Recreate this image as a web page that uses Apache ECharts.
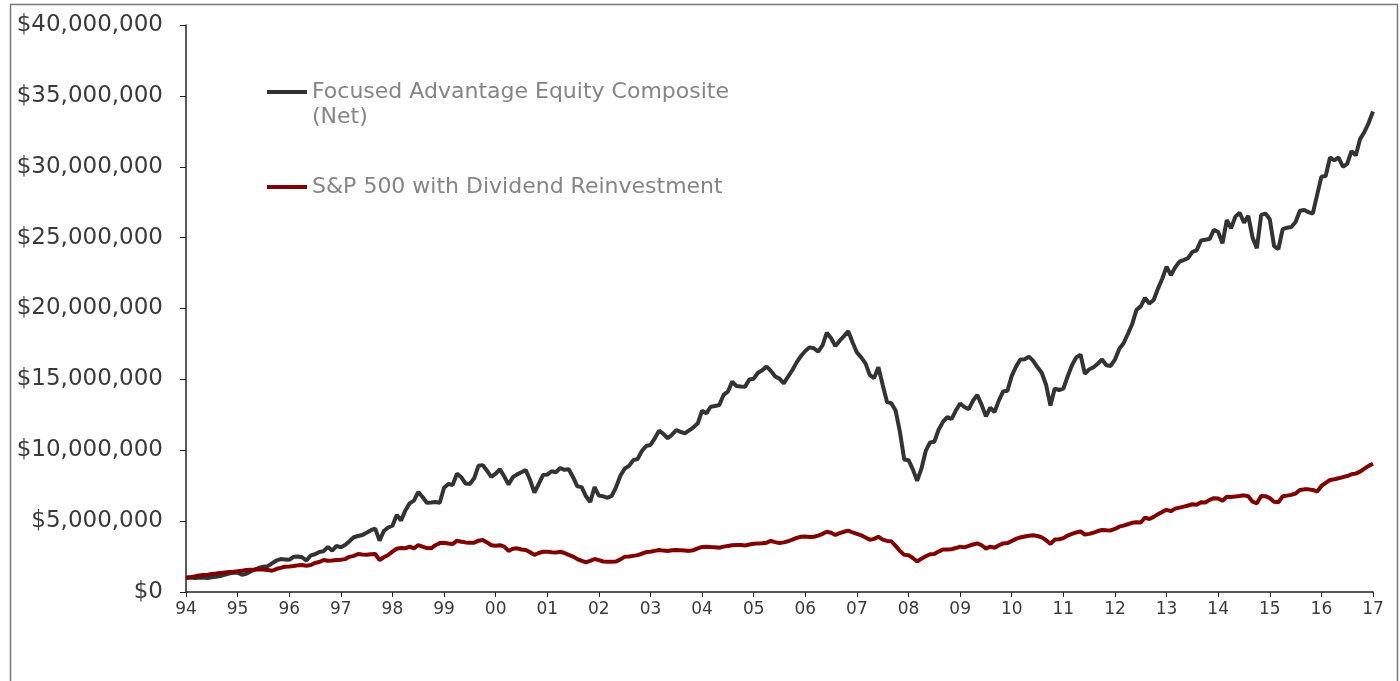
<!DOCTYPE html>
<html style="height: 100%">
<head>
  <meta charset="utf-8">
</head>
<body style="height: 100%; margin: 0; background: #fff">
  <div id="container" style="width: 1400px; height: 681px"></div>
  <script type="text/javascript" src="https://cdn.jsdelivr.net/npm/echarts@6/dist/echarts.min.js"></script>
  <script type="text/javascript">
    // year tick labels (one tick every 12 monthly points)
    var years = ['94', '95', '96', '97', '98', '99', '00', '01', '02', '03', '04', '05',
                 '06', '07', '08', '09', '10', '11', '12', '13', '14', '15', '16', '17'];

    // growth of $1,000,000, values in $ millions, monthly
    var composite = [
      1.00, 1.02, 0.98, 1.00, 1.03, 0.99, 1.04, 1.08, 1.13, 1.22, 1.30, 1.35,
      1.38, 1.22, 1.28, 1.45, 1.58, 1.71, 1.78, 1.82, 2.02, 2.22, 2.32, 2.30,
      2.27, 2.48, 2.50, 2.45, 2.22, 2.58, 2.66, 2.82, 2.88, 3.18, 2.92, 3.25,
      3.15, 3.32, 3.58, 3.86, 3.95, 4.02, 4.18, 4.36, 4.47, 3.62, 4.30, 4.55,
      4.68, 5.43, 5.05, 5.75, 6.25, 6.45, 7.05, 6.70, 6.30, 6.32, 6.35, 6.30,
      7.35, 7.62, 7.55, 8.35, 8.10, 7.65, 7.62, 8.02, 8.90, 8.95, 8.55, 8.12,
      8.35, 8.66, 8.15, 7.58, 8.10, 8.30, 8.45, 8.60, 7.90, 7.02, 7.60, 8.25,
      8.28, 8.52, 8.45, 8.75, 8.62, 8.66, 8.10, 7.45, 7.40, 6.75, 6.35, 7.40,
      6.80, 6.75, 6.65, 6.78, 7.40, 8.20, 8.70, 8.90, 9.30, 9.38, 9.95, 10.30,
      10.38, 10.84, 11.38, 11.15, 10.84, 11.10, 11.43, 11.30, 11.20, 11.40, 11.62, 11.90,
      12.80, 12.60, 13.07, 13.12, 13.19, 13.90, 14.13, 14.84, 14.53, 14.50, 14.48, 15.00,
      15.05, 15.47, 15.65, 15.90, 15.60, 15.20, 15.05, 14.72, 15.20, 15.66, 16.20, 16.65,
      17.00, 17.26, 17.20, 16.95, 17.40, 18.29, 17.90, 17.35, 17.73, 18.05, 18.40, 17.60,
      16.90, 16.55, 16.13, 15.30, 15.10, 15.85, 14.60, 13.40, 13.32, 12.80, 11.30, 9.35,
      9.30, 8.65, 7.85, 8.70, 9.95, 10.55, 10.60, 11.45, 12.00, 12.35, 12.20, 12.80,
      13.30, 13.05, 12.90, 13.50, 13.90, 13.20, 12.40, 13.00, 12.70, 13.50, 14.15, 14.20,
      15.25, 15.90, 16.40, 16.42, 16.60, 16.30, 15.85, 15.45, 14.60, 13.15, 14.35, 14.25,
      14.35, 15.20, 16.00, 16.55, 16.75, 15.40, 15.70, 15.85, 16.10, 16.40, 16.00, 15.95,
      16.40, 17.15, 17.55, 18.20, 18.90, 19.90, 20.15, 20.75, 20.35, 20.60, 21.40, 22.10,
      22.95, 22.35, 22.90, 23.30, 23.42, 23.55, 24.00, 24.10, 24.80, 24.85, 24.90, 25.55,
      25.40, 24.60, 26.24, 25.66, 26.48, 26.76, 26.05, 26.53, 25.00, 24.25, 26.60, 26.70,
      26.30, 24.40, 24.20, 25.60, 25.70, 25.75, 26.10, 26.90, 26.95, 26.80, 26.70, 28.00,
      29.30, 29.35, 30.65, 30.45, 30.65, 30.00, 30.20, 31.10, 30.80, 31.95, 32.45, 33.10,
      33.90
    ];

    var sp500 = [
      1.00, 1.05, 1.10, 1.17, 1.20, 1.22, 1.27, 1.30, 1.34, 1.38, 1.41, 1.43,
      1.46, 1.50, 1.55, 1.57, 1.58, 1.60, 1.59, 1.56, 1.50, 1.62, 1.70, 1.78,
      1.80, 1.83, 1.88, 1.90, 1.85, 1.90, 2.05, 2.12, 2.26, 2.20, 2.22, 2.26,
      2.28, 2.32, 2.48, 2.55, 2.68, 2.65, 2.63, 2.66, 2.68, 2.26, 2.45, 2.61,
      2.85, 3.05, 3.10, 3.08, 3.20, 3.08, 3.30, 3.20, 3.10, 3.08, 3.30, 3.45,
      3.48, 3.42, 3.38, 3.62, 3.55, 3.50, 3.48, 3.48, 3.62, 3.67, 3.50, 3.30,
      3.26, 3.30, 3.20, 2.90, 3.05, 3.08, 3.00, 2.96, 2.80, 2.62, 2.75, 2.84,
      2.84, 2.80, 2.78, 2.84, 2.75, 2.62, 2.50, 2.32, 2.20, 2.10, 2.20, 2.33,
      2.25, 2.15, 2.14, 2.14, 2.15, 2.30, 2.48, 2.50, 2.55, 2.60, 2.70, 2.82,
      2.84, 2.90, 2.96, 2.92, 2.90, 2.94, 2.96, 2.94, 2.92, 2.90, 2.95, 3.08,
      3.18, 3.20, 3.17, 3.15, 3.12, 3.20, 3.25, 3.30, 3.32, 3.32, 3.28, 3.35,
      3.40, 3.43, 3.44, 3.48, 3.60, 3.52, 3.45, 3.50, 3.58, 3.70, 3.82, 3.90,
      3.92, 3.88, 3.90, 3.98, 4.10, 4.25, 4.18, 4.02, 4.15, 4.25, 4.33, 4.20,
      4.10, 4.00, 3.85, 3.68, 3.75, 3.90, 3.70, 3.60, 3.58, 3.25, 2.90, 2.62,
      2.60, 2.40, 2.15, 2.35, 2.52, 2.66, 2.68, 2.85, 3.00, 3.00, 3.02, 3.10,
      3.20, 3.15, 3.25, 3.35, 3.43, 3.30, 3.06, 3.20, 3.12, 3.30, 3.43, 3.45,
      3.60, 3.75, 3.85, 3.92, 3.97, 4.00, 3.95, 3.85, 3.65, 3.39, 3.70, 3.72,
      3.80, 3.98, 4.10, 4.20, 4.28, 4.05, 4.10, 4.18, 4.30, 4.37, 4.35, 4.34,
      4.45, 4.61, 4.68, 4.78, 4.88, 4.92, 4.90, 5.25, 5.15, 5.30, 5.48, 5.65,
      5.80, 5.70, 5.88, 5.95, 6.02, 6.10, 6.19, 6.15, 6.33, 6.32, 6.50, 6.62,
      6.60, 6.44, 6.72, 6.70, 6.74, 6.77, 6.82, 6.75, 6.37, 6.26, 6.77, 6.76,
      6.62, 6.37, 6.33, 6.75, 6.80, 6.85, 6.95, 7.20, 7.24, 7.24, 7.20, 7.08,
      7.48, 7.70, 7.90, 7.95, 8.02, 8.10, 8.18, 8.30, 8.35, 8.49, 8.70, 8.90,
      9.05
    ];

    // one category per month, labelled with the year at each tick
    var months = [];
    for (var i = 0; i < composite.length; i++) {
      var y = years[Math.floor(i / 12)];
      months.push(i % 12 === 0 ? y : y + '.' + (i % 12));
    }

    function dollars(v) {
      var s = String(Math.round(v * 1000000));
      return '$' + s.replace(/\B(?=(\d{3})+(?!\d))/g, ',');
    }

    var dom = document.getElementById('container');
    var myChart = echarts.init(dom);
    var font = 'DejaVu Sans';

    var option = {
      animation: false,
      backgroundColor: '#fff',
      grid: { left: 186, right: 27, top: 25, bottom: 89 },
      graphic: [{
        type: 'rect',
        shape: { x: 10.5, y: 4.5, width: 1387, height: 720 },
        style: { fill: 'none', stroke: '#7a7a7a', lineWidth: 1.5 },
        silent: true
      }],
      legend: [{
        data: ['Focused Advantage Equity Composite (Net)'],
        left: 267, top: 54.5, padding: 0,
        icon: 'rect', itemWidth: 40, itemHeight: 4,
        formatter: function () { return ' \nFocused Advantage Equity Composite\n(Net)'; },
        textStyle: { color: '#858585', fontFamily: font, fontSize: 22, lineHeight: 25 }
      }, {
        data: ['S&P 500 with Dividend Reinvestment'],
        left: 267, top: 174.5, padding: 0,
        icon: 'rect', itemWidth: 40, itemHeight: 4,
        textStyle: { color: '#858585', fontFamily: font, fontSize: 22, lineHeight: 25 }
      }],
      xAxis: {
        type: 'category',
        data: months,
        boundaryGap: false,
        axisLine: { lineStyle: { color: '#222', width: 1.5 } },
        axisTick: { interval: 11, length: 5, lineStyle: { color: '#222' } },
        axisLabel: {
          interval: 11, margin: 9, color: '#3a3a3a', fontFamily: font, fontSize: 17,
          formatter: function (v) { return v.split('.')[0]; }
        },
        splitLine: { show: false }
      },
      yAxis: {
        type: 'value',
        min: 0, max: 40, interval: 5,
        axisLine: { show: true, lineStyle: { color: '#222', width: 1.5 } },
        axisTick: { show: true, length: 6, lineStyle: { color: '#222' } },
        axisLabel: { margin: 23, color: '#3a3a3a', fontFamily: font, fontSize: 23, formatter: dollars },
        splitLine: { show: false }
      },
      series: [{
        name: 'Focused Advantage Equity Composite (Net)',
        type: 'line',
        data: composite,
        showSymbol: false,
        color: '#333333',
        lineStyle: { width: 4, color: '#333333' }
      }, {
        name: 'S&P 500 with Dividend Reinvestment',
        type: 'line',
        data: sp500,
        showSymbol: false,
        color: '#800000',
        lineStyle: { width: 4, color: '#800000' }
      }]
    };
    myChart.setOption(option);
  </script>
</body>
</html>
